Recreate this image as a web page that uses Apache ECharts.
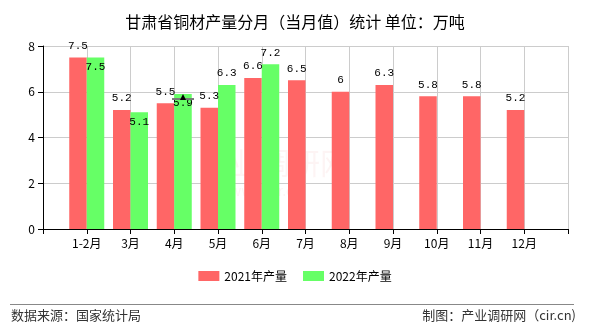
<!DOCTYPE html>
<html>
<head>
<meta charset="utf-8">
<script src="https://cdn.jsdelivr.net/npm/echarts@6/dist/echarts.min.js"></script>
<style>
  html, body { margin: 0; padding: 0; background: #fff; }
  #chart { width: 590px; height: 330px; }
</style>
</head>
<body>
<div id="chart"></div>
<script>
// Monthly copper products output, Gansu province (10k tonnes)
var months = ['1-2月', '3月', '4月', '5月', '6月', '7月', '8月', '9月', '10月', '11月', '12月'];
var output2021 = [7.5, 5.2, 5.5, 5.3, 6.6, 6.5, 6, 6.3, 5.8, 5.8, 5.2];
var output2022 = [7.5, 5.1, 5.9, 6.3, 7.2, null, null, null, null, null, null];
var yTicks = [0, 2, 4, 6, 8];

var FONT = '"Noto Sans CJK SC", "Liberation Sans", sans-serif';

// Axis padded with an empty slot at each end so bars sit on the grid lines
var axisCats = [''].concat(months, ['']);
function pad(arr) { return [null].concat(arr, [null]); }

var redData = pad(output2021);
// 2022 labels go inside the bar when they would collide with the 2021 label
var greenData = pad(output2022).map(function (v, i) {
  if (v == null) return null;
  var r = redData[i];
  var clash = r != null && Math.abs(v - r) < 0.5;
  return {
    value: v,
    label: clash ? { position: 'insideTop', distance: 4 } : { position: 'top', distance: 6 }
  };
});

var chart = echarts.init(document.getElementById('chart'), null, { renderer: 'canvas' });
chart.setOption({
  animation: false,
  backgroundColor: '#fff',
  title: {
    text: '甘肃省铜材产量分月（当月值）统计 单位：万吨',
    left: 'center',
    top: 9,
    textStyle: { fontFamily: FONT, fontSize: 16, fontWeight: 'normal', color: '#000' }
  },
  grid: { left: 43, right: 22, top: 46, bottom: 101 },
  legend: {
    bottom: 43,
    left: 'center',
    itemWidth: 21,
    itemHeight: 10,
    itemGap: 16,
    icon: 'rect',
    textStyle: { fontFamily: FONT, fontSize: 12, color: '#000' },
    data: ['2021年产量', '2022年产量']
  },
  xAxis: {
    type: 'category',
    data: axisCats,
    boundaryGap: false,
    axisLine: { lineStyle: { color: '#000', width: 1 } },
    axisTick: { show: true, alignWithLabel: true, lineStyle: { color: '#000' } },
    axisLabel: { fontFamily: FONT, fontSize: 12, color: '#000', margin: 8, interval: 0 },
    splitLine: { show: true, lineStyle: { color: '#ccc' } }
  },
  yAxis: {
    type: 'value',
    min: yTicks[0],
    max: yTicks[yTicks.length - 1],
    interval: 2,
    axisLine: { show: true, lineStyle: { color: '#000' } },
    axisTick: { show: true, lineStyle: { color: '#000' } },
    axisLabel: { fontFamily: FONT, fontSize: 12, color: '#000', margin: 8 },
    splitLine: { lineStyle: { color: '#ccc' } }
  },
  series: [
    {
      name: '2021年产量',
      type: 'bar',
      data: redData,
      barGap: '0%',
      barCategoryGap: '20%',
      itemStyle: { color: '#ff6666' },
      label: {
        show: true, position: 'top', distance: 6,
        fontFamily: '"Liberation Mono", monospace', fontSize: 11, color: '#000'
      }
    },
    {
      name: '2022年产量',
      type: 'bar',
      data: greenData,
      itemStyle: { color: '#66ff66' },
      label: {
        show: true,
        fontFamily: '"Liberation Mono", monospace', fontSize: 11, color: '#000'
      },
      markPoint: {
        silent: true,
        label: { show: false },
        data: [
          { coord: ['4月', 5.9], symbol: 'rect', symbolSize: [22, 2], symbolOffset: [0, 5], itemStyle: { color: '#777' } },
          { coord: ['4月', 5.9], symbol: 'triangle', symbolSize: [6, 6], symbolOffset: [0, 3], itemStyle: { color: '#000' } }
        ]
      }
    }
  ],
  graphic: [
    {
      type: 'group', left: 200, top: 148, silent: true,
      children: [
        { type: 'text', style: { text: '产业调研网', font: '30px ' + FONT, fill: 'rgba(220,60,60,0.06)' } },
        { type: 'text', top: 36, left: 30, style: { text: 'www.cir.cn', font: '14px ' + FONT, fill: 'rgba(220,60,60,0.06)' } }
      ]
    },
    {
      type: 'line', silent: true,
      shape: { x1: 10, y1: 304.5, x2: 574, y2: 304.5 },
      style: { stroke: '#888', lineWidth: 1 }
    },
    {
      type: 'text', left: 11, top: 309,
      style: { text: '数据来源：国家统计局', font: '13px ' + FONT, fill: '#333' }
    },
    {
      type: 'text', right: 14, top: 309,
      style: { text: '制图：产业调研网（cir.cn)', font: '13px ' + FONT, fill: '#333' }
    }
  ]
});
</script>
</body>
</html>
